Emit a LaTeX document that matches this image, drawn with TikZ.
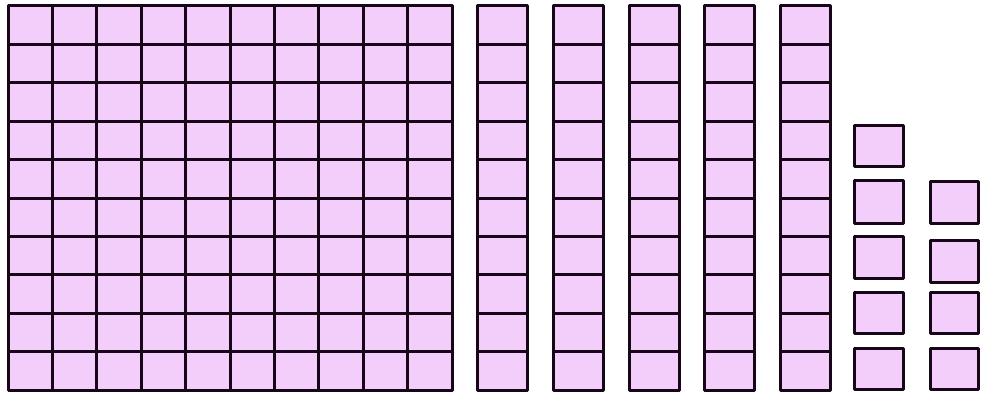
\documentclass[tikz,border=0pt]{standalone}
\usepackage{tikz}
\definecolor{rosaBloco}{RGB}{243,206,250}
\definecolor{contornoBloco}{RGB}{22,6,24}

\begin{document}
\begin{tikzpicture}[
    x=1pt, y=-1pt,
    bloco/.style={draw=contornoBloco, line width=3pt, fill=rosaBloco, line join=round},
    divisa/.style={draw=contornoBloco, line width=3pt}
]
    \useasboundingbox (0,0) rectangle (981,393);

    % Centena (10 x 10)
    \draw[bloco] (8,6) rectangle (452,390);
    \foreach \i in {1,...,9} {
        \draw[divisa] ({8+44.4*\i},6) -- ({8+44.4*\i},390);
        \draw[divisa] (8,{6+38.4*\i}) -- (452,{6+38.4*\i});
    }

    % Dezenas (barras de 10)
    \foreach \x in {477,553,629,704,780} {
        \draw[bloco] (\x,6) rectangle ({\x+50},390);
        \foreach \i in {1,...,9}
            \draw[divisa] (\x,{6+38.4*\i}) -- ({\x+50},{6+38.4*\i});
    }

    % Unidades (primeira coluna)
    \foreach \t/\b in {125/166, 180/223, 236/278, 292/333, 348/389}
        \draw[bloco] (854,\t) rectangle (903,\b);

    % Unidades (segunda coluna)
    \foreach \t/\b in {181/223, 240/282, 292/333, 348/389}
        \draw[bloco] (930,\t) rectangle (978,\b);

\end{tikzpicture}
\end{document}
